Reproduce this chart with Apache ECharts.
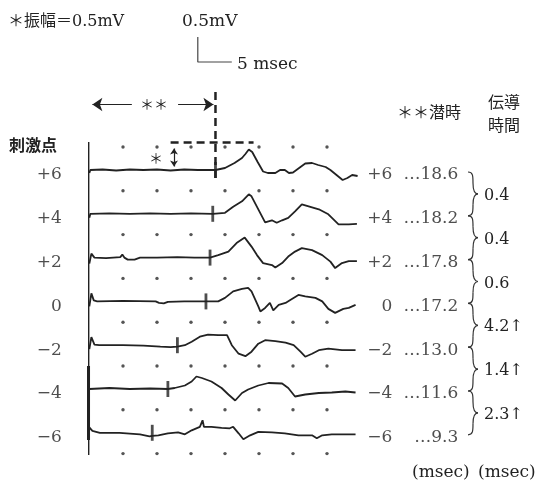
<!DOCTYPE html>
<html>
<head>
<meta charset="utf-8">
<script src="https://cdn.jsdelivr.net/npm/echarts@6/dist/echarts.min.js"></script>
<style>
  html, body { margin: 0; padding: 0; background: #fff; }
  #chart { width: 539px; height: 482px; }
</style>
</head>
<body>
<div id="chart"></div>
<script>
// stimulation points (cm), latencies (msec), conduction times between points (msec)
const stimPoints = ['+6', '+4', '+2', '0', '−2', '−4', '−6'];
const latencies = [18.6, 18.2, 17.8, 17.2, 13.0, 11.6, 9.3];
const conductionTimes = ['0.4', '0.4', '0.6', '4.2↑', '1.4↑', '2.3↑'];
const gridTimes = [5, 10, 15, 20, 25, 30, 35];

// waveforms: [time msec, amplitude mV], relative to each trace's baseline
const traceP6 = [[0.05,-0.06],[0.2,0],[2,0.01],[4,-0.01],[6,0.01],[8,0],[10,0.01],[12,-0.01],[14,0.01],[16,0],[18.6,0],[20.0,0.04],[21.4,0.14],[22.5,0.24],[23.0,0.32],[23.5,0.41],[24.0,0.36],[24.8,0.16],[25.6,-0.03],[26.3,-0.06],[27.4,-0.06],[28.1,0],[28.8,0],[29.4,-0.06],[30.0,-0.05],[31.1,0.06],[31.8,0.13],[32.8,0.14],[33.7,0.1],[34.8,0.06],[35.5,0],[36.4,-0.1],[37.3,-0.2],[38.0,-0.16],[38.7,-0.1],[39.5,-0.12]];
const traceP4 = [[0.05,-0.08],[0.2,0],[3,0.01],[6,0],[9,0.01],[12,0],[15,0.01],[18.2,0],[20.0,0.02],[21.2,0.14],[22.5,0.25],[23.5,0.39],[23.9,0.35],[24.9,0.09],[25.9,-0.17],[26.9,-0.13],[27.6,-0.18],[28.4,-0.13],[29.3,-0.08],[30.3,0.05],[31.3,0.19],[32.3,0.15],[33.8,0.09],[35.2,-0.01],[36.7,-0.21],[38.2,-0.21],[39.4,-0.2]];
const traceP2 = [[0.05,-0.12],[0.35,0.08],[0.8,0],[2.5,-0.01],[4.6,0.01],[4.9,0.06],[5.2,0],[5.7,-0.04],[6.7,-0.04],[7.5,0],[10,0],[13,0.01],[15.5,0],[17.8,0],[19.0,0.05],[20.5,0.12],[21.7,0.29],[22.9,0.40],[23.9,0.22],[24.7,0.05],[25.6,-0.11],[26.9,-0.15],[27.4,-0.2],[28.4,-0.11],[29.3,0.02],[30.3,0.12],[31.3,0.19],[32.8,0.15],[34.3,0.05],[35.5,-0.08],[36.2,-0.21],[37.2,-0.11],[38.2,-0.07],[39.4,-0.07]];
const trace0 = [[0.05,-0.1],[0.35,0.16],[0.7,0.02],[1.2,0],[5,0.01],[9.8,0],[10.3,-0.03],[11,-0.04],[11.6,-0.01],[14,0],[17.2,0],[19.0,0],[20.0,0.07],[21.2,0.2],[22.5,0.25],[23.4,0.27],[23.9,0.2],[24.9,-0.1],[25.2,-0.2],[25.9,-0.13],[26.6,-0.03],[27.1,-0.18],[27.9,-0.07],[28.9,-0.03],[29.6,0.03],[30.8,0.13],[31.8,0.1],[33.3,0.07],[34.3,0],[35.2,-0.15],[36.2,-0.23],[37.4,-0.15],[38.2,-0.13],[39.2,-0.07]];
const traceM2 = [[0.05,-0.08],[0.35,0.16],[0.8,0.01],[1.5,0],[5,0],[8,-0.01],[10.5,-0.03],[12,-0.04],[13.0,-0.03],[14.1,0],[15.1,0.07],[16.3,0.17],[17.5,0.21],[19.0,0.2],[20.3,0.2],[21.0,0],[22.0,-0.17],[23.0,-0.22],[23.9,-0.13],[24.9,0.03],[25.9,0.1],[27.4,0.08],[28.9,0.05],[30.1,0],[31.1,-0.13],[31.8,-0.23],[32.8,-0.17],[33.8,-0.1],[35.2,-0.07],[37.2,-0.1],[39.2,-0.1]];
const traceM4 = [[0.05,0],[3,0.02],[6,0],[9,0.01],[11.6,0],[12.6,0.02],[14.1,0.07],[15.1,0.15],[15.8,0.25],[16.6,0.22],[18.0,0.15],[19.5,0.02],[20.5,-0.11],[21.5,-0.23],[22.5,-0.08],[23.4,-0.01],[24.9,0.07],[26.4,0.12],[28.4,0.11],[29.3,0.02],[30.3,-0.15],[31.8,-0.11],[33.8,-0.08],[35.7,-0.07],[37.7,-0.05],[39.2,-0.07]];
const traceM6 = [[0.05,0.11],[0.5,0.04],[1.6,0],[4.5,0],[7.5,-0.03],[8.9,-0.07],[9.3,-0.06],[10.2,-0.05],[11.6,-0.01],[13.1,0.01],[14.1,-0.03],[15.1,0.05],[16.3,0.12],[16.7,0.25],[16.9,0.12],[18.0,0.12],[19.5,0.1],[20.7,0.09],[21.2,0.12],[22.0,-0.01],[22.7,-0.13],[23.7,-0.05],[24.9,0.02],[26.9,0.01],[28.8,-0.01],[30.8,-0.05],[32.8,-0.05],[33.5,-0.11],[34.3,-0.05],[35.7,-0.03],[37.7,-0.03],[39.2,-0.03]];
const traces = [traceP6, traceP4, traceP2, trace0, traceM2, traceM4, traceM6];

const INK = '#222';
const FONT = "'DejaVu Serif', 'Noto Sans CJK JP', serif";
const JP = "'Noto Sans CJK JP', sans-serif";
const ROW = 0.876;               // trace spacing in mV
const base = i => -ROW * i;

const chart = echarts.init(document.getElementById('chart'));

// trace lines
const series = traces.map((tr, i) => ({
  type: 'line',
  data: tr.map(p => [p[0], p[1] + base(i)]),
  showSymbol: false,
  lineStyle: { color: INK, width: 1.8 },
  silent: true
}));

// dotted grid (every 5 msec, between traces)
const dots = [];
for (let r = 0; r <= traces.length; r++) {
  gridTimes.forEach(t => dots.push([t, base(r) + 0.46]));
}
series.push({
  type: 'scatter', data: dots, symbolSize: 3.4,
  itemStyle: { color: '#2a2a2a' }, silent: true
});

// latency markers
series.push({
  type: 'scatter', symbol: 'rect', symbolSize: [2.8, 16],
  data: latencies.map((l, i) => [l, base(i)]),
  itemStyle: { color: INK }, silent: true
});

// left frame line
const frame = [
  { d: [[-0.05, 0.56], [-0.05, -5.7]], w: 1.5 },
  { d: [[-0.1, -3.92], [-0.1, -5.4]], w: 3.4 },
  { d: [[-0.35, -4.9], [-0.35, -5.7]], w: 1 }
];
frame.forEach(f => series.push({
  type: 'line', data: f.d, showSymbol: false,
  lineStyle: { color: INK, width: f.w }, silent: true
}));

// dashed latency / amplitude guides on the top trace
series.push({
  type: 'line', data: [[latencies[0], 1.56], [latencies[0], -0.16]], showSymbol: false,
  lineStyle: { color: INK, width: 2.5, type: [8, 5] }, silent: true
});
series.push({
  type: 'line', data: [[12.0, 0.55], [24.2, 0.55]], showSymbol: false,
  lineStyle: { color: INK, width: 2.5, type: [8, 5] }, silent: true
});

// calibration bar 0.5 mV / 5 msec, plus arrows
series.push({
  type: 'line', data: [[16.0, 2.66], [16.0, 2.16], [21.0, 2.16]], showSymbol: false,
  lineStyle: { color: '#444', width: 1.2 }, silent: true,
  markLine: {
    silent: true, animation: false,
    label: { show: false },
    lineStyle: { color: INK, type: 'solid', width: 1.2 },
    data: [
      [{ coord: [6.3, 1.31], symbol: 'none' }, { coord: [0.5, 1.31], symbol: 'arrow', symbolSize: 10 }],
      [{ coord: [13.1, 1.31], symbol: 'none' }, { coord: [18.3, 1.31], symbol: 'arrow', symbolSize: 10 }],
      [{ coord: [12.5, 0.43], symbol: 'arrow', symbolSize: 6 }, { coord: [12.5, 0.07], symbol: 'arrow', symbolSize: 6 }]
    ]
  }
});

// row labels
const labelSeries = (x, fmt) => ({
  type: 'scatter', symbolSize: 0, clip: false, silent: true,
  data: stimPoints.map((s, i) => ({ name: fmt(s, i), value: [x, base(i)] })),
  label: {
    show: true, position: 'left', distance: 0, offset: [0, 5],
    formatter: '{b}', color: INK, fontFamily: FONT, fontSize: 17
  }
});
series.push(labelSeries(-4.0, s => s));
series.push(labelSeries(44.6, s => s));
series.push(labelSeries(54.3, (s, i) => '…' + latencies[i].toFixed(1)));

const txt = (x, y, text, opts = {}) => ({
  type: 'text', x, y, silent: true,
  style: Object.assign({
    text, fill: INK, font: '16px ' + FONT, textVerticalAlign: 'middle'
  }, opts)
});

chart.setOption({
  animation: false,
  grid: { left: 89, width: 272, top: 20, height: 450 },
  xAxis: { type: 'value', min: 0, max: 40, show: false },
  yAxis: { type: 'value', min: -6, max: 3, show: false },
  series
});

// annotations positioned from the chart's own scales
const rowY = latencies.map((l, i) => chart.convertToPixel({ gridIndex: 0 }, [0, base(i)])[1] + 5);
const graphics = [
  txt(8, 22, '＊振幅＝0.5mV', { font: '16px ' + FONT }),
  txt(182, 22, '0.5mV', { font: '17px ' + FONT }),
  txt(237, 65, '5 msec', { font: '17px ' + FONT }),
  txt(140, 104, '＊＊', { font: '14px ' + JP }),
  txt(149, 158, '＊', { font: '14px ' + JP }),
  txt(9, 145, '刺激点', { font: 'bold 16px ' + JP }),
  txt(397, 112, '＊＊潜時', { font: '16px ' + JP }),
  txt(504, 102, '伝導', { font: '16px ' + JP, textAlign: 'center' }),
  txt(504, 125, '時間', { font: '16px ' + JP, textAlign: 'center' }),
  txt(412, 473, '(msec)', { font: '17px ' + FONT }),
  txt(478, 473, '(msec)', { font: '17px ' + FONT })
];

conductionTimes.forEach((c, i) => {
  const y1 = rowY[i] - 3, y2 = rowY[i + 1] - 3, m = (y1 + y2) / 2, x = 468;
  const seg = (a, b, c1, c2) => ({
    type: 'bezierCurve', silent: true,
    shape: { x1: a[0], y1: a[1], x2: b[0], y2: b[1], cpx1: c1[0], cpy1: c1[1], cpx2: c2[0], cpy2: c2[1] },
    style: { stroke: '#333', lineWidth: 1.2, fill: null }
  });
  graphics.push(seg([x, y1], [x + 5, (y1 + m) / 2], [x + 5, y1], [x + 5, y1 + 4]));
  graphics.push(seg([x + 5, (y1 + m) / 2], [x + 10, m], [x + 5, m - 4], [x + 6, m]));
  graphics.push(seg([x + 10, m], [x + 5, (m + y2) / 2], [x + 6, m], [x + 5, m + 4]));
  graphics.push(seg([x + 5, (m + y2) / 2], [x, y2], [x + 5, y2 - 4], [x + 5, y2]));
  graphics.push(txt(484, m + 2, c, { font: '16px ' + FONT }));
});

chart.setOption({ graphic: graphics });
</script>
</body>
</html>
